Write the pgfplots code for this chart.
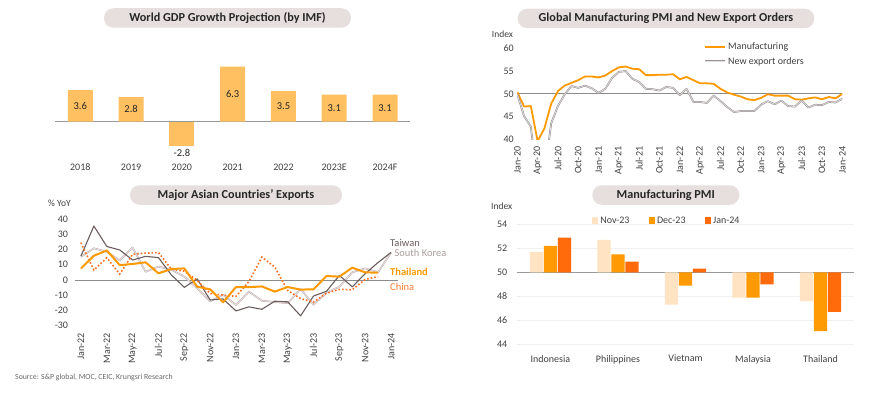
\documentclass[border=0pt]{standalone}
\usepackage{pgfplots}
\pgfplotsset{compat=1.18}
\usepackage{fontspec}
\setmainfont{Carlito}
\definecolor{gdpbar}{HTML}{FFC061}
\definecolor{titlebg}{HTML}{E7DFDD}
\definecolor{orangeM}{HTML}{FF9900}
\definecolor{txt}{HTML}{404040}
\definecolor{ttl}{HTML}{262626}
\definecolor{twn}{HTML}{6B5D5D}
\definecolor{kor}{HTML}{BFAEAE}
\definecolor{korcore}{HTML}{EEE8E8}
\definecolor{chn}{HTML}{FF6F1F}
\definecolor{chnlabel}{HTML}{FF7F33}
\definecolor{expgray}{HTML}{9A9292}
\definecolor{expcore}{HTML}{E2DEDE}
\definecolor{nov}{HTML}{FFE3C2}
\definecolor{dec}{HTML}{FF9A05}
\definecolor{jan}{HTML}{FF6A0A}
\pgfplotsset{
  base/.style={scale only axis, anchor=south west,
    axis line style={draw=none}, tick style={draw=none},
    /pgf/number format/assume math mode=true,
    tick label style={font=\fontsize{10}{12}\selectfont, text=txt},
  },
  sqleg/.style={legend image code/.code={\fill[##1] (0pt,-3pt) rectangle (6.5pt,3.5pt);}},
}
\begin{document}
\begin{tikzpicture}[x=1pt,y=1pt]
\path[use as bounding box] (0,-396) rectangle (870,0);

% ---------- titles ----------
\tikzset{ttlbox/.style={fill=titlebg, rounded corners=9.5pt, minimum height=19.5pt, inner sep=0pt, text=ttl, font=\bfseries\fontsize{12.2}{14}\selectfont}}
\node[ttlbox, minimum width=247pt] at (227.5pt,-18pt) {World GDP Growth Projection (by IMF)};
\node[ttlbox, minimum width=296.6pt] at (666pt,-18.5pt) {Global Manufacturing PMI and New Export Orders};
\node[ttlbox, minimum width=212pt] at (236pt,-195pt) {Major Asian Countries’ Exports};
\node[ttlbox, minimum width=147pt] at (665.8pt,-195pt) {Manufacturing PMI};

% ---------- Panel 1: World GDP ----------
\begin{axis}[base, at={(54.9pt,-160.2pt)}, width=355.5pt, height=99.75pt,
  xmin=-0.5, xmax=6.5, ymin=-4.4, ymax=7, ytick=\empty,
  xtick={0,...,6}, xticklabels={2018,2019,2020,2021,2022,2023E,2024F},
  extra y ticks={0}, extra y tick labels={},
  extra y tick style={grid=major, major grid style={draw=black!40, line width=0.8pt}},
  clip=false,
  nodes near coords style={font=\fontsize{10.5}{12}\selectfont, text=ttl},
  /pgf/number format/.cd, fixed, fixed zerofill, precision=1]
\addplot[ybar, bar width=25pt, bar shift=0pt, fill=gdpbar, draw=none,
  nodes near coords,
  visualization depends on={rawy \as \ry},
  every node near coord/.append style={anchor=center, yshift={-\ry*4.375pt}}]
  coordinates {(0,3.6) (1,2.8) (3,6.3) (4,3.5) (5,3.1) (6,3.1)};
\addplot[ybar, bar width=25pt, bar shift=0pt, fill=gdpbar, draw=none,
  nodes near coords, every node near coord/.append style={anchor=north}]
  coordinates {(2,-2.8)};
\end{axis}

% ---------- Panel 2: Global PMI ----------
\node[anchor=west, inner sep=0pt, text=txt, font=\fontsize{9.5}{11}\selectfont] at (491.7pt,-34pt) {Index};
\begin{axis}[base, at={(517.3pt,-139.3pt)}, width=325pt, height=91pt,
  xmin=0, xmax=48, ymin=40, ymax=60, ytick={40,45,...,60},
  xtick={0,3,...,48},
  xticklabels={Jan-20,Apr-20,Jul-20,Oct-20,Jan-21,Apr-21,Jul-21,Oct-21,Jan-22,Apr-22,Jul-22,Oct-22,Jan-23,Apr-23,Jul-23,Oct-23,Jan-24},
  xticklabel style={rotate=90, anchor=east},
  xticklabel shift=4pt,
  extra y ticks={50}, extra y tick labels={},
  extra y tick style={grid=major, major grid style={draw=black!45, line width=0.8pt}},
  legend style={at={(0.575,1.085)}, anchor=north west, draw=none, fill=none,
    font=\fontsize{10}{12}\selectfont, text=txt, row sep=2pt, inner sep=0pt},
  legend cell align=left,
  legend image code/.code={\draw[#1] (0pt,0pt) -- (20pt,0pt);}]
\addplot[color=orangeM, line width=1.8pt, line join=round, mark=none] coordinates {
(0,50.4) (1,47.2) (2,47.3) (3,39.6) (4,42.4) (5,47.8) (6,50.6) (7,51.8) (8,52.4) (9,53.0)
(10,53.8) (11,53.8) (12,53.6) (13,54.0) (14,55.0) (15,55.8) (16,56.0) (17,55.5) (18,55.4) (19,54.1)
(20,54.1) (21,54.2) (22,54.2) (23,54.3) (24,53.2) (25,53.7) (26,53.0) (27,52.3) (28,52.3) (29,52.2)
(30,51.1) (31,50.3) (32,49.8) (33,49.4) (34,48.8) (35,48.6) (36,49.1) (37,49.9) (38,49.6) (39,49.6)
(40,49.6) (41,48.8) (42,48.7) (43,49.0) (44,49.2) (45,48.8) (46,49.3) (47,49.0) (48,50.0)};
\addlegendentry{Manufacturing}
\addplot[draw=expgray, double=expcore, double distance=0.7pt, line width=0.55pt, line join=round, mark=none] coordinates {
(0,49.9) (1,45.1) (2,42.8) (3,30.0) (4,32.0) (5,43.5) (6,47.3) (7,49.9) (8,51.7) (9,51.3)
(10,51.8) (11,51.2) (12,50.2) (13,51.1) (14,53.5) (15,54.8) (16,55.0) (17,53.3) (18,52.6) (19,51.1)
(20,51.0) (21,50.7) (22,51.5) (23,51.3) (24,49.7) (25,51.1) (26,48.2) (27,48.2) (28,48.0) (29,49.6)
(30,48.4) (31,47.1) (32,46.0) (33,46.2) (34,46.2) (35,46.2) (36,47.6) (37,48.4) (38,47.7) (39,48.5)
(40,47.3) (41,47.2) (42,48.5) (43,47.0) (44,47.6) (45,47.5) (46,48.2) (47,48.1) (48,48.9)};
\addlegendentry{New export orders}
\end{axis}

% ---------- Panel 3: Asian exports ----------
\node[anchor=west, inner sep=0pt, text=txt, font=\fontsize{9.5}{11}\selectfont] at (48pt,-203.3pt) {\% YoY};
\begin{axis}[base, at={(74.5pt,-325.75pt)}, width=323pt, height=106.75pt,
  xmin=-0.5, xmax=24.5, ymin=-30, ymax=40, ytick={-30,-20,...,40},
  yticklabel style={xshift=-3pt},
  xtick={0,2,...,24},
  xticklabels={Jan-22,Mar-22,May-22,Jul-22,Sep-22,Nov-22,Jan-23,Mar-23,May-23,Jul-23,Sep-23,Nov-23,Jan-24},
  xticklabel style={rotate=90, anchor=east},
  xticklabel shift=4pt,
  extra y ticks={0}, extra y tick labels={},
  extra y tick style={grid=major, major grid style={draw=black!45, line width=0.8pt}}]
\addplot[draw=kor, double=korcore, double distance=0.6pt, line width=0.55pt, line join=round, mark=none] coordinates {
(0,15.2) (1,20.8) (2,18.5) (3,12.8) (4,21.3) (5,5.4) (6,8.8) (7,6.6) (8,2.3) (9,-5.5)
(10,-14.0) (11,-9.7) (12,-16.4) (13,-7.6) (14,-13.6) (15,-14.4) (16,-15.2) (17,-5.9) (18,-16.2) (19,-8.3)
(20,-4.4) (21,5.1) (22,7.6) (23,5.1) (24,18.0)};
\addplot[color=twn, line width=1.1pt, line join=round, mark=none] coordinates {
(0,15.7) (1,35.4) (2,22.0) (3,19.7) (4,13.1) (5,15.5) (6,14.7) (7,3.3) (8,-4.8) (9,0.7)
(10,-13.1) (11,-12.4) (12,-20.3) (13,-17.6) (14,-19.2) (15,-13.9) (16,-14.3) (17,-23.5) (18,-10.5) (19,-7.4)
(20,3.0) (21,-4.5) (22,4.2) (23,11.5) (24,18.1)};
\addplot[color=chn, line width=1.6pt, dash pattern=on 1.6pt off 2pt, mark=none] coordinates {
(0,24.5) (1,6.5) (2,14.6) (3,3.9) (4,16.9) (5,17.6) (6,18.0) (7,7.1) (8,5.8) (9,-0.3)
(10,-8.8) (11,-9.9) (12,-10.7) (13,-1.0) (14,15.0) (15,8.5) (16,-6.8) (17,-12.2) (18,-14.4) (19,-8.7)
(20,-6.1) (21,-6.4) (22,0.4) (23,2.2)};
\addplot[color=orangeM, line width=2pt, line join=round, mark=none] coordinates {
(0,7.5) (1,15.9) (2,19.4) (3,9.8) (4,10.5) (5,11.6) (6,4.4) (7,7.2) (8,7.6) (9,-4.4)
(10,-6.1) (11,-14.6) (12,-4.6) (13,-4.7) (14,-4.2) (15,-7.6) (16,-4.6) (17,-6.3) (18,-6.1) (19,2.6)
(20,2.2) (21,8.1) (22,5.0) (23,4.8)};
\end{axis}
\node[anchor=west, inner sep=0pt, text=twn, font=\fontsize{10.5}{12}\selectfont] at (390pt,-242.7pt) {Taiwan};
\node[anchor=west, inner sep=0pt, text=kor!90!black, font=\fontsize{10.5}{12}\selectfont] at (394.3pt,-253.3pt) {South Korea};
\node[anchor=west, inner sep=0pt, text=orangeM, font=\bfseries\fontsize{10.5}{12}\selectfont] at (390pt,-272.3pt) {Thailand};
\node[anchor=west, inner sep=0pt, text=chnlabel, font=\fontsize{10.5}{12}\selectfont] at (390pt,-286.7pt) {China};

% ---------- Panel 4: Manufacturing PMI ----------
\node[anchor=west, inner sep=0pt, text=txt, font=\fontsize{9.5}{11}\selectfont] at (491pt,-206.7pt) {Index};
\begin{axis}[base, at={(516.7pt,-344.3pt)}, width=337.6pt, height=120pt,
  xmin=-0.5, xmax=4.5, ymin=-6, ymax=4,
  y filter/.expression={y-50},
  ytick={-6,-4,...,4}, yticklabels={44,46,48,50,52,54},
  yticklabel style={xshift=-6pt},
  xtick={0,...,4}, xticklabels={Indonesia,Philippines,Vietnam,Malaysia,Thailand},
  xticklabel style={yshift=-3pt},
  ymajorgrids, major grid style={draw=black!6},
  extra y ticks={0}, extra y tick labels={},
  extra y tick style={grid=major, major grid style={draw=black!40, line width=0.8pt}},
  ybar=0.7pt, bar width=13.3pt,
  legend columns=3,
  legend style={at={(0.222,1.03)}, anchor=west, draw=none, fill=none,
    font=\fontsize{10}{12}\selectfont, text=txt, inner sep=0pt,
    /tikz/every even column/.append style={column sep=17pt}}]
\addplot[fill=nov, draw=none, sqleg] coordinates {(0,51.7) (1,52.7) (2,47.3) (3,47.9) (4,47.6)};
\addlegendentry{Nov-23}
\addplot[fill=dec, draw=none, sqleg] coordinates {(0,52.2) (1,51.5) (2,48.9) (3,47.9) (4,45.1)};
\addlegendentry{Dec-23}
\addplot[fill=jan, draw=none, sqleg] coordinates {(0,52.9) (1,50.9) (2,50.3) (3,49.0) (4,46.7)};
\addlegendentry{Jan-24}
\end{axis}

% ---------- source ----------
\node[anchor=west, inner sep=0pt, text=black!60, font=\fontsize{7.8}{9}\selectfont] at (15pt,-377.3pt) {Source: S\&P global, MOC, CEIC, Krungsri Research};
\end{tikzpicture}
\end{document}
